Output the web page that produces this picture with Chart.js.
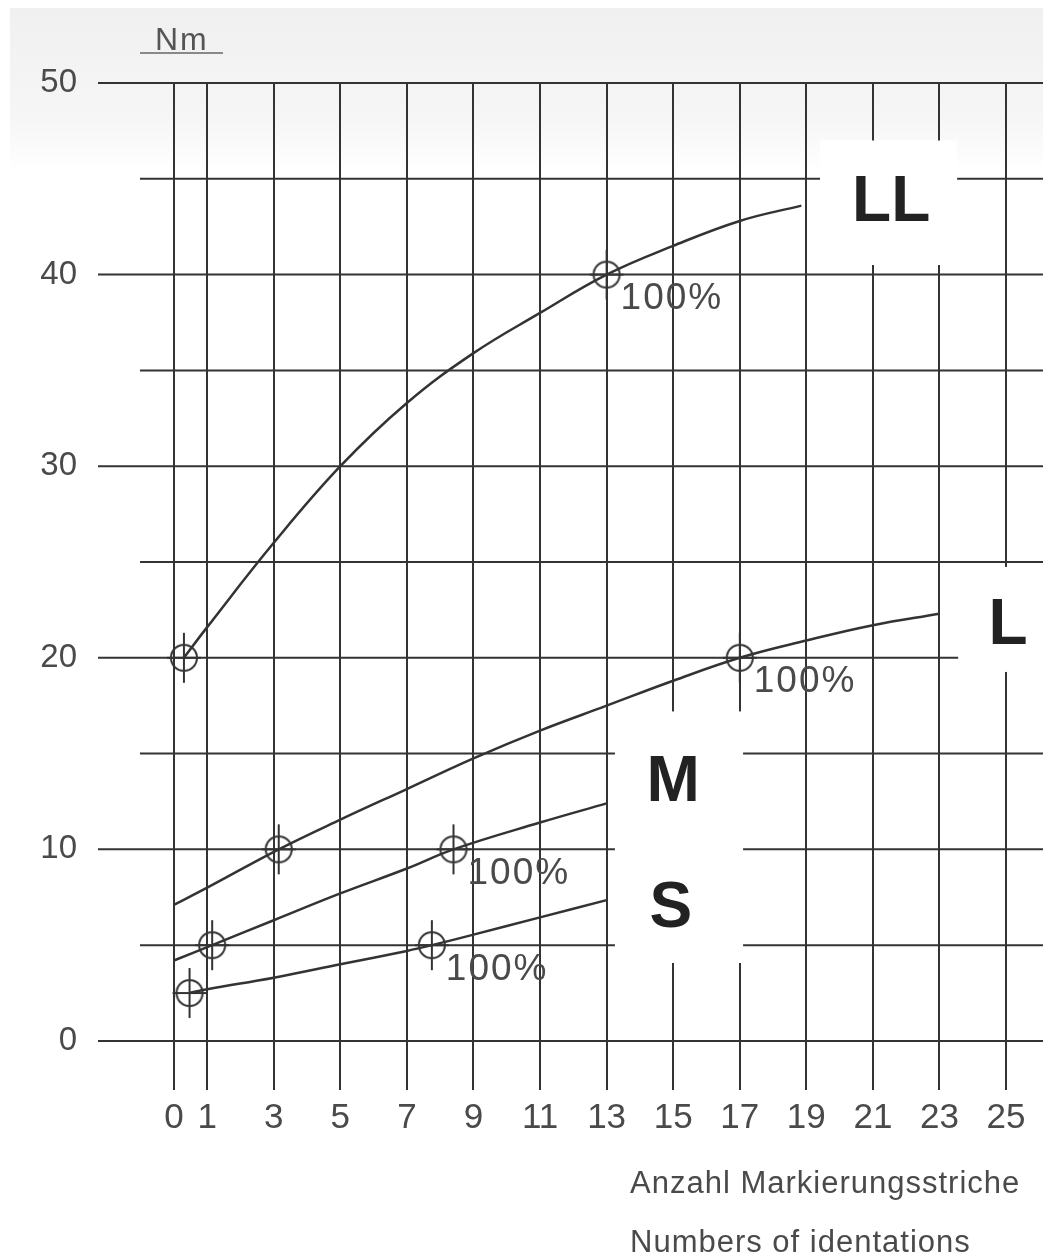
<!DOCTYPE html>
<html>
<head>
<meta charset="utf-8">
<script src="https://cdn.jsdelivr.net/npm/chart.js@4.4.1/dist/chart.umd.min.js"></script>
<style>
  html, body { margin: 0; padding: 0; background: #fff; }
  #wrap { width: 1043px; height: 1258px; }
</style>
</head>
<body>
<div id="wrap"><canvas id="drehmoment" width="1043" height="1258"></canvas></div>
<script>
// Kurven: x = Anzahl Markierungsstriche, y = Nm
const llX = [0.3, 1, 3, 5, 7, 9, 11, 13, 15, 17, 18.85];
const llY = [20, 21.6, 26.0, 30.0, 33.3, 35.9, 38.0, 40.0, 41.5, 42.8, 43.6];

const lX = [0, 1, 3.15, 5, 7, 9, 11, 13, 15, 17, 19, 21, 23];
const lY = [7.1, 8.0, 10.0, 11.55, 13.15, 14.75, 16.2, 17.5, 18.8, 20.0, 20.9, 21.7, 22.3];

const mX = [0, 1.15, 3, 5, 7, 8.4, 11, 13];
const mY = [4.2, 5.0, 6.3, 7.7, 9.0, 10.0, 11.4, 12.4];

const sX = [0.47, 1, 3, 5, 7, 7.75, 9, 11, 13];
const sY = [2.5, 2.7, 3.3, 4.0, 4.7, 5.0, 5.55, 6.45, 7.35];

// Messpunkte (50 % und 100 %)
const halfX = [0.3, 3.15, 1.15, 0.47];
const halfY = [20, 10, 5, 2.5];
const fullX = [13, 17, 8.4, 7.75];
const fullY = [40, 20, 10, 5];
const fullLabel = "100%";

const xTicks = [0, 1, 3, 5, 7, 9, 11, 13, 15, 17, 19, 21, 23, 25];
const yTicks = [0, 5, 10, 15, 20, 25, 30, 35, 40, 45, 50];

const sizeNames = ["LL", "L", "M", "S"];

const FONT = "'Liberation Sans', Arial, sans-serif";
const INK = "#333";
const TEXT = "#4a4a4a";

function pts(xs, ys) {
  return xs.map((x, i) => ({ x: x, y: ys[i] }));
}

// Fadenkreuz-Marker
function makeMarker() {
  const c = document.createElement("canvas");
  c.width = 64;
  c.height = 64;
  const g = c.getContext("2d");
  g.strokeStyle = INK;
  g.lineWidth = 2;
  g.beginPath();
  g.arc(32, 32, 13, 0, Math.PI * 2);
  g.moveTo(32, 7);
  g.lineTo(32, 57);
  g.moveTo(15, 32);
  g.lineTo(49, 32);
  g.stroke();
  return c;
}

// weisse Felder mit den Groessenbezeichnungen (Datenkoordinaten)
const tags = [
  { text: sizeNames[0], x: 21.55, y: 43.9, box: [19.41, 23.53, 40.5, 47.0] },
  { text: sizeNames[1], x: 25.06, y: 21.8, box: [23.56, 26.2, 19.26, 24.74] },
  { text: sizeNames[2], x: 15.0, y: 13.6, box: [13.25, 17.1, 4.07, 17.2] },
  { text: sizeNames[3], x: 14.93, y: 7.05, box: null },
];

const decor = {
  id: "decor",
  beforeDraw(chart) {
    const ctx = chart.ctx;
    ctx.save();
    ctx.fillStyle = "#fff";
    ctx.fillRect(0, 0, chart.width, chart.height);
    const g = ctx.createLinearGradient(0, 8, 0, 170);
    g.addColorStop(0, "#f0f0f0");
    g.addColorStop(0.7, "#f6f6f6");
    g.addColorStop(1, "#ffffff");
    ctx.fillStyle = g;
    ctx.fillRect(10, 8, chart.width - 10, 162);
    ctx.restore();
  },
  beforeDatasetsDraw(chart) {
    const { ctx, chartArea, scales } = chart;
    const x = scales.x, y = scales.y;
    ctx.save();
    // horizontale Gitterlinien
    ctx.strokeStyle = INK;
    ctx.lineWidth = 2;
    yTicks.forEach((v) => {
      const py = y.getPixelForValue(v);
      const x0 = v % 10 === 0 ? chartArea.left : chartArea.left + 42;
      ctx.beginPath();
      ctx.moveTo(x0, py);
      ctx.lineTo(chartArea.right, py);
      ctx.stroke();
    });
    // Felder
    ctx.fillStyle = "#fff";
    tags.forEach((t) => {
      if (!t.box) return;
      const l = x.getPixelForValue(t.box[0]);
      const r = x.getPixelForValue(t.box[1]);
      const b = y.getPixelForValue(t.box[2]);
      const tp = y.getPixelForValue(t.box[3]);
      ctx.fillRect(l, tp, r - l, b - tp);
    });
    ctx.fillStyle = "#222";
    ctx.font = "bold 64px " + FONT;
    ctx.textAlign = "center";
    ctx.textBaseline = "middle";
    tags.forEach((t) => {
      ctx.fillText(t.text, x.getPixelForValue(t.x), y.getPixelForValue(t.y) + 3);
    });
    // 100 % Beschriftung
    ctx.fillStyle = TEXT;
    ctx.font = "37px " + FONT;
    ctx.letterSpacing = "2px";
    ctx.textAlign = "left";
    ctx.textBaseline = "top";
    fullX.forEach((v, i) => {
      ctx.fillText(fullLabel, x.getPixelForValue(v) + 14, y.getPixelForValue(fullY[i]) + 6);
    });
    ctx.restore();
  },
  afterDraw(chart) {
    const ctx = chart.ctx;
    ctx.save();
    ctx.fillStyle = "#555";
    ctx.font = "32px " + FONT;
    ctx.letterSpacing = "2px";
    ctx.textAlign = "left";
    ctx.textBaseline = "alphabetic";
    ctx.fillText("Nm", 155, 50);
    ctx.strokeStyle = "#666";
    ctx.lineWidth = 1.5;
    ctx.beginPath();
    ctx.moveTo(140, 53);
    ctx.lineTo(223, 53);
    ctx.stroke();

    ctx.fillStyle = TEXT;
    ctx.font = "31px " + FONT;
    ctx.letterSpacing = "1px";
    ctx.fillText("Anzahl Markierungsstriche", 630, 1193);
    ctx.fillText("Numbers of identations", 630, 1252);
    ctx.restore();
  },
};

const marker = makeMarker();

new Chart(document.getElementById("drehmoment"), {
  type: "scatter",
  data: {
    datasets: [
      { label: "LL", data: pts(llX, llY) },
      { label: "L", data: pts(lX, lY) },
      { label: "M", data: pts(mX, mY) },
      { label: "S", data: pts(sX, sY) },
    ].map((d) => Object.assign(d, {
      showLine: true,
      borderColor: INK,
      borderWidth: 2.5,
      pointRadius: 0,
      tension: 0.4,
      fill: false,
    })).concat([
      {
        label: "Messpunkte",
        data: pts(halfX, halfY).concat(pts(fullX, fullY)),
        showLine: false,
        pointStyle: marker,
        pointRadius: 14,
        clip: false,
      },
    ]),
  },
  options: {
    responsive: false,
    animation: false,
    layout: { autoPadding: false, padding: { top: 83, bottom: 108, left: 0, right: 0 } },
    plugins: {
      legend: { display: false },
      tooltip: { enabled: false },
    },
    scales: {
      x: {
        type: "linear",
        position: "bottom",
        min: -2.28,
        max: 26.11,
        afterBuildTicks: (s) => { s.ticks = xTicks.map((v) => ({ value: v })); },
        afterFit: (s) => { s.height = 60; },
        border: { display: false },
        grid: { color: INK, lineWidth: 2, drawTicks: false },
        ticks: {
          autoSkip: false,
          maxRotation: 0,
          minRotation: 0,
          padding: 7,
          color: TEXT,
          font: { family: FONT, size: 35 },
        },
      },
      y: {
        type: "linear",
        min: -2.56,
        max: 50,
        afterBuildTicks: (s) => { s.ticks = yTicks.map((v) => ({ value: v })); },
        afterFit: (s) => { s.width = 98; },
        border: { display: false },
        grid: { display: false, drawTicks: false },
        ticks: {
          padding: 21,
          color: TEXT,
          font: { family: FONT, size: 33 },
          callback: (v) => (v % 10 === 0 ? v : ""),
        },
      },
    },
  },
  plugins: [decor],
});
</script>
</body>
</html>
